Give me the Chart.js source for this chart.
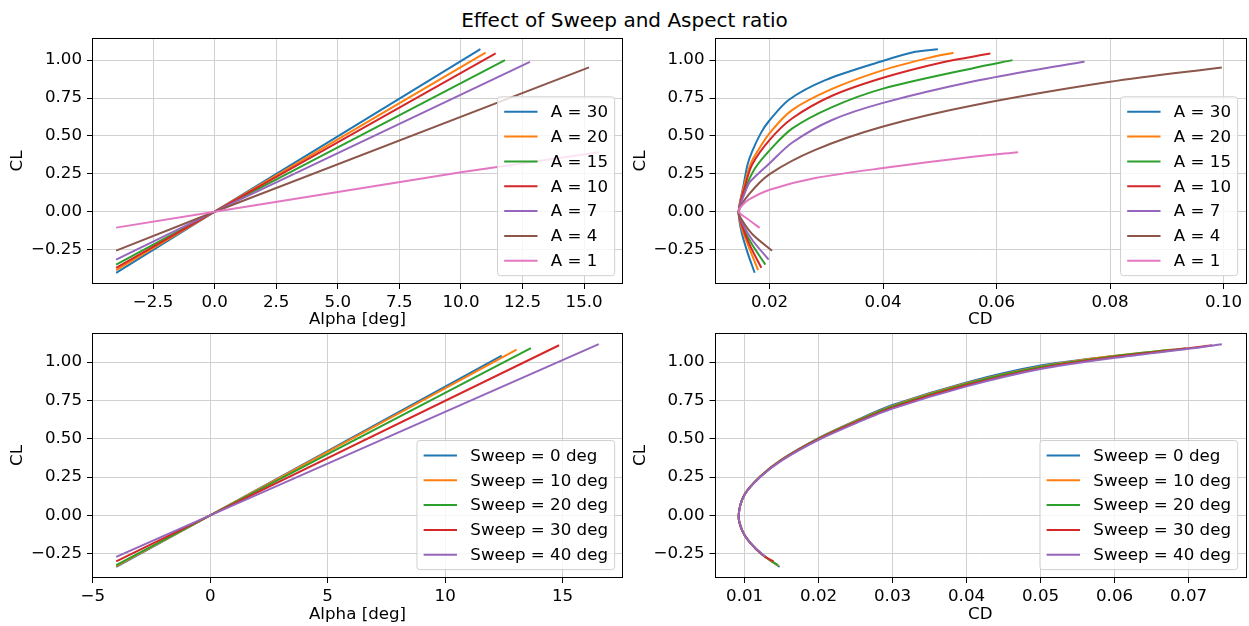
<!DOCTYPE html>
<html lang="en">
<head>
  <meta charset="UTF-8">
  <title>Effect of Sweep and Aspect ratio</title>
  <script src="https://cdn.jsdelivr.net/npm/chart.js"></script>
  <style>
    body {
      margin: 0;
      background: #fff;
      font-family: "DejaVu Sans", sans-serif;
    }
    #title {
      position: absolute;
      left: 0;
      top: 9px;
      width: 1249px;
      text-align: center;
      font-size: 20px;
      line-height: 22px;
      color: #000;
    }
    canvas {
      position: absolute;
    }
  </style>
</head>
<body>
  <div id="title">Effect of Sweep and Aspect ratio</div>
  <canvas id="clAlphaA" width="630" height="302" style="left:0;top:30px"></canvas>
  <canvas id="polarA" width="618" height="302" style="left:631px;top:30px"></canvas>
  <canvas id="clAlphaSweep" width="630" height="300" style="left:0;top:326px"></canvas>
  <canvas id="polarSweep" width="618" height="300" style="left:631px;top:326px"></canvas>

  <script>
    const aspectLabels = ['A = 30', 'A = 20', 'A = 15', 'A = 10', 'A = 7', 'A = 4', 'A = 1'];
    const sweepLabels = ['Sweep = 0 deg', 'Sweep = 10 deg', 'Sweep = 20 deg', 'Sweep = 30 deg', 'Sweep = 40 deg'];
    const colors = ['#1f77b4', '#ff7f0e', '#2ca02c', '#d62728', '#9467bd', '#8c564b', '#e377c2'];

    // tick positions
    const clTicks = [-0.25, 0, 0.25, 0.5, 0.75, 1.0];
    const alphaTicksA = [-2.5, 0, 2.5, 5, 7.5, 10, 12.5, 15];
    const cdTicksA = [0.02, 0.04, 0.06, 0.08, 0.10];
    const alphaTicksSweep = [-5, 0, 5, 10, 15];
    const cdTicksSweep = [0.01, 0.02, 0.03, 0.04, 0.05, 0.06, 0.07];

    // CL vs alpha, one row per aspect ratio
    const alphaA = [
      [-4, 0, 10.79],
      [-4, 0, 11.0],
      [-4, 0, 11.79],
      [-4, 0, 11.41],
      [-4, 0, 12.8],
      [-4, 0, 15.2],
      [-4, 0, 5, 10, 15.6]
    ];
    const clAlphaA = [
      [-0.403, 0, 1.072],
      [-0.386, 0, 1.049],
      [-0.349, 0, 1.0],
      [-0.37, 0, 1.044],
      [-0.316, 0, 0.989],
      [-0.257, 0, 0.952],
      [-0.105, 0, 0.13, 0.26, 0.392]
    ];

    // CL vs CD, one row per aspect ratio
    const cdA = [
      [0.01736, 0.01602, 0.01502, 0.01454, 0.01542, 0.0161, 0.0169, 0.01847, 0.01982, 0.02335, 0.02981, 0.03979, 0.04565, 0.04965],
      [0.01796, 0.0163, 0.0151, 0.01454, 0.0155, 0.0166, 0.01748, 0.02, 0.02394, 0.031, 0.04, 0.048, 0.0524],
      [0.01924, 0.0168, 0.0153, 0.01454, 0.0157, 0.0174, 0.02, 0.02394, 0.031, 0.04, 0.0562, 0.0628],
      [0.01854, 0.0165, 0.0152, 0.01454, 0.0156, 0.0169, 0.02, 0.02394, 0.031, 0.04, 0.05035, 0.0589],
      [0.01982, 0.017, 0.0154, 0.01454, 0.0158, 0.0166, 0.02, 0.02394, 0.031, 0.04, 0.0562, 0.0703, 0.0755],
      [0.02042, 0.017, 0.0152, 0.01454, 0.0163, 0.02, 0.02805, 0.04, 0.0562, 0.08, 0.0997],
      [0.01824, 0.0163, 0.01454, 0.015, 0.0163, 0.02, 0.02805, 0.04, 0.0562, 0.0638]
    ];
    const clPolarA = [
      [-0.403, -0.26, -0.129, 0, 0.178, 0.31, 0.397, 0.52, 0.595, 0.737, 0.868, 0.993, 1.055, 1.072],
      [-0.386, -0.23, -0.11, 0, 0.17, 0.31, 0.375, 0.518, 0.67, 0.81, 0.934, 1.015, 1.049],
      [-0.349, -0.21, -0.1, 0, 0.15, 0.285, 0.405, 0.548, 0.69, 0.812, 0.95, 1.0],
      [-0.37, -0.22, -0.1, 0, 0.16, 0.31, 0.474, 0.615, 0.765, 0.884, 0.985, 1.044],
      [-0.316, -0.19, -0.09, 0, 0.14, 0.2, 0.32, 0.455, 0.605, 0.718, 0.862, 0.958, 0.989],
      [-0.257, -0.15, -0.06, 0, 0.112, 0.248, 0.408, 0.562, 0.704, 0.857, 0.952],
      [-0.107, -0.053, 0, 0.035, 0.079, 0.145, 0.222, 0.288, 0.364, 0.393]
    ];

    // CL vs alpha, one row per sweep angle
    const alphaSweep = [
      [-4, 0, 12.41],
      [-4, 0, 13.04],
      [-4, 0, 13.65],
      [-4, 0, 14.85],
      [-4, 0, 16.54]
    ];
    const clAlphaSweep = [
      [-0.335, 0, 1.043],
      [-0.33, 0, 1.082],
      [-0.324, 0, 1.091],
      [-0.30, 0, 1.11],
      [-0.27, 0, 1.117]
    ];

    // CL vs CD, one row per sweep angle
    const cdSweep = [
      [0.01473, 0.0125, 0.0108, 0.0097, 0.0092, 0.0100, 0.01215, 0.015, 0.02, 0.025, 0.03, 0.04, 0.05, 0.06, 0.0612],
      [0.0146, 0.0125, 0.0108, 0.0097, 0.0092, 0.0100, 0.01215, 0.015, 0.02, 0.025, 0.03, 0.04, 0.05, 0.06, 0.068],
      [0.0145, 0.0125, 0.0108, 0.0097, 0.0092, 0.0100, 0.01215, 0.015, 0.02, 0.025, 0.03, 0.04, 0.05, 0.06, 0.0697],
      [0.0139, 0.0125, 0.0108, 0.0097, 0.0092, 0.0100, 0.01215, 0.015, 0.02, 0.025, 0.03, 0.04, 0.05, 0.06, 0.07, 0.0732],
      [0.0128, 0.0108, 0.0097, 0.0092, 0.0100, 0.01215, 0.015, 0.02, 0.025, 0.03, 0.04, 0.05, 0.06, 0.07, 0.0745]
    ];
    const clPolarSweep = [
      [-0.335, -0.26, -0.18, -0.1, 0, 0.136, 0.255, 0.365, 0.505, 0.618, 0.72, 0.868, 0.978, 1.04, 1.043],
      [-0.33, -0.26, -0.18, -0.1, 0, 0.136, 0.255, 0.364, 0.503, 0.615, 0.715, 0.862, 0.972, 1.042, 1.082],
      [-0.324, -0.26, -0.18, -0.1, 0, 0.136, 0.255, 0.363, 0.501, 0.612, 0.711, 0.858, 0.968, 1.039, 1.091],
      [-0.30, -0.26, -0.18, -0.1, 0, 0.136, 0.254, 0.361, 0.497, 0.606, 0.703, 0.849, 0.961, 1.033, 1.09, 1.11],
      [-0.27, -0.18, -0.1, 0, 0.135, 0.252, 0.358, 0.493, 0.601, 0.697, 0.842, 0.955, 1.028, 1.087, 1.117]
    ];

    const fontSize = 16.67;
    Chart.defaults.font.family = '"DejaVu Sans", sans-serif';
    Chart.defaults.font.size = fontSize;
    Chart.defaults.color = '#000';

    const fmt = (dec) => (v) => Number(v).toFixed(dec).replace('-', '\u2212');

    // box around the plot + matplotlib-like legend in the lower right
    const frameAndLegend = {
      id: 'frameAndLegend',
      afterDatasetsDraw(chart) {
        const { ctx, chartArea: a } = chart;
        ctx.save();
        ctx.strokeStyle = '#000';
        ctx.lineWidth = 1;
        ctx.strokeRect(Math.round(a.left) + 0.5, Math.round(a.top) + 0.5,
          Math.round(a.right - a.left) - 1, Math.round(a.bottom - a.top) - 1);

        const sets = chart.data.datasets;
        ctx.font = fontSize + 'px "DejaVu Sans"';
        const textW = Math.max(...sets.map(d => ctx.measureText(d.label).width));
        const pad = 0.4 * fontSize, handle = 2 * fontSize, gap = 0.8 * fontSize;
        const rowH = 16.5, spacing = 0.5 * fontSize;
        const w = pad * 2 + handle + gap + textW;
        const h = pad * 2 + sets.length * rowH + (sets.length - 1) * spacing;
        const x = a.right - 0.5 * fontSize - w;
        const y = a.bottom - 0.5 * fontSize - h;

        ctx.beginPath();
        ctx.roundRect(x, y, w, h, 3);
        ctx.fillStyle = 'rgba(255,255,255,0.8)';
        ctx.fill();
        ctx.strokeStyle = '#d0d0d0';
        ctx.stroke();

        ctx.textBaseline = 'middle';
        ctx.textAlign = 'left';
        sets.forEach((d, i) => {
          const cy = y + pad + rowH / 2 + i * (rowH + spacing);
          ctx.beginPath();
          ctx.moveTo(x + pad, cy);
          ctx.lineTo(x + pad + handle, cy);
          ctx.strokeStyle = d.borderColor;
          ctx.lineWidth = 2;
          ctx.stroke();
          ctx.fillStyle = '#000';
          ctx.fillText(d.label, x + pad + handle + gap, cy + 1);
        });
        ctx.restore();
      }
    };

    function axis(o) {
      return {
        type: 'linear',
        min: o.min,
        max: o.max,
        afterBuildTicks: (s) => { s.ticks = o.ticks.map(v => ({ value: v })); },
        afterFit: (s) => {
          // fixed frame: no extra room for edge labels
          if (o.width) s.width = o.width;
          if (o.height) s.height = o.height;
          s.paddingTop = 0;
          s.paddingBottom = 0;
          s.paddingLeft = 0;
          s.paddingRight = 0;
        },
        ticks: { autoSkip: false, maxRotation: 0, padding: o.tickPad, callback: fmt(o.dec), color: '#000' },
        grid: { color: '#d0d0d0', lineWidth: 1, tickLength: 5, tickColor: '#000', tickWidth: 1 },
        border: { display: false },
        title: { display: true, text: o.title, padding: o.titlePad, color: '#000' }
      };
    }

    function makeChart(id, xs, ys, labels, xAxis, yAxis, pad, tension) {
      const n = labels.length;
      return new Chart(document.getElementById(id), {
        type: 'line',
        data: {
          datasets: labels.map((label, i) => ({
            label: label,
            data: xs[i].map((x, k) => ({ x: x, y: ys[i][k] })),
            borderColor: colors[i],
            backgroundColor: colors[i],
            borderWidth: 2,
            pointRadius: 0,
            tension: tension,
            fill: false,
            order: n - i
          }))
        },
        options: {
          responsive: false,
          animation: false,
          devicePixelRatio: 1,
          events: [],
          layout: { padding: pad },
          scales: { x: xAxis, y: yAxis },
          plugins: { legend: { display: false }, tooltip: { enabled: false } }
        },
        plugins: [frameAndLegend]
      });
    }

    const clAxisTop = (w, tp) => axis({ min: -0.477, max: 1.146, ticks: clTicks, dec: 2, width: w, tickPad: 5,
      title: 'CL', titlePad: { top: tp, bottom: 0 } });
    const clAxisBottom = (w, tp) => axis({ min: -0.408, max: 1.19, ticks: clTicks, dec: 2, width: w, tickPad: 5,
      title: 'CL', titlePad: { top: tp, bottom: 0 } });

    makeChart('clAlphaA', alphaA, clAlphaA, aspectLabels,
      axis({ min: -4.98, max: 16.58, ticks: alphaTicksA, dec: 1, height: 48, tickPad: 4,
        title: 'Alpha [deg]', titlePad: { top: 0, bottom: 2 } }),
      clAxisTop(92, 8),
      { top: 8, right: 7, left: 0, bottom: 0 }, 0);

    makeChart('polarA', cdA, clPolarA, aspectLabels,
      axis({ min: 0.01028, max: 0.10396, ticks: cdTicksA, dec: 2, height: 48, tickPad: 4,
        title: 'CD', titlePad: { top: 0, bottom: 2 } }),
      clAxisTop(83.5, 0),
      { top: 8, right: 3, left: 0, bottom: 0 }, 0.3);

    makeChart('clAlphaSweep', alphaSweep, clAlphaSweep, sweepLabels,
      axis({ min: -5.03, max: 17.57, ticks: alphaTicksSweep, dec: 0, height: 48, tickPad: 4,
        title: 'Alpha [deg]', titlePad: { top: 0, bottom: 1 } }),
      clAxisBottom(92, 8),
      { top: 7, right: 7, left: 0, bottom: 0 }, 0);

    makeChart('polarSweep', cdSweep, clPolarSweep, sweepLabels,
      axis({ min: 0.005935, max: 0.077765, ticks: cdTicksSweep, dec: 2, height: 48, tickPad: 4,
        title: 'CD', titlePad: { top: 0, bottom: 1 } }),
      clAxisBottom(83.5, 0),
      { top: 7, right: 3, left: 0, bottom: 0 }, 0.3);
  </script>
</body>
</html>
